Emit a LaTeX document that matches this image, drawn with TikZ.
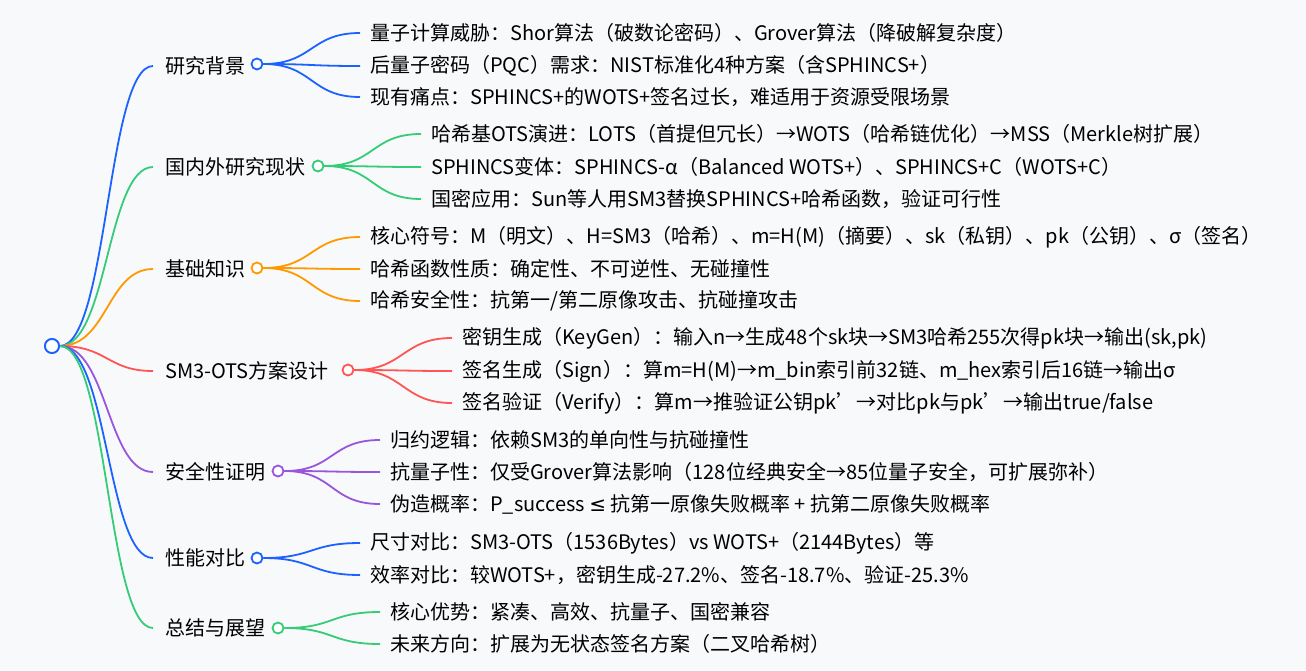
\documentclass[tikz,border=0pt]{standalone}
\usepackage{fontspec}
\setmainfont{Noto Sans CJK SC}
\newfontfamily\symfont{DejaVu Sans}
\usetikzlibrary{calc}
\definecolor{cblue}{RGB}{28,98,255}
\definecolor{cgreen}{RGB}{52,204,118}
\definecolor{corange}{RGB}{255,153,0}
\definecolor{cred}{RGB}{255,85,85}
\definecolor{cpurple}{RGB}{153,85,221}
\definecolor{bg}{RGB}{248,249,251}
\tikzset{
  txt/.style={anchor=west,inner sep=0pt,font=\fontsize{20}{22}\selectfont},
  knob/.style={circle,draw=#1,fill=white,line width=1.8pt,inner sep=0pt,minimum size=11pt},
  lnk/.style={draw=#1,line width=1.8pt}
}
\newcommand{\branch}[3]{% from, to, colour
  \draw[lnk=#3] (#1.east) .. controls +(48,0) and ($(#2.west)+(-58,0)$) .. ($(#2.west)+(-12,0)$);}
\newcommand{\leaf}[3]{%
  \draw[lnk=#3] (#1.east) .. controls +(50,0) and ($(#2.west)+(-60,0)$) .. ($(#2.west)+(-10,0)$);}
\newcommand{\pr}{\symbol{39}}
\begin{document}
\begin{tikzpicture}[x=1pt,y=-1pt]
 \fill[bg] (0,0) rectangle (1306,670);
 \useasboundingbox (0,0) rectangle (1306,670);

 \node[knob=cblue,minimum size=14pt] (root) at (52,346) {};

 % branches
 \node[txt] (b1) at (165,66) {研究背景};
 \node[txt] (b2) at (165,167) {国内外研究现状};
 \node[txt] (b3) at (165,269) {基础知识};
 \node[txt] (b4) at (165,371) {SM3-OTS方案设计};
 \node[txt] (b5) at (165,472) {安全性证明};
 \node[txt] (b6) at (165,558) {性能对比};
 \node[txt] (b7) at (165,628) {总结与展望};

 \node[knob=cblue] (k1) at (257,64) {};
 \node[knob=cgreen] (k2) at (318,166) {};
 \node[knob=corange] (k3) at (257,268) {};
 \node[knob=cred] (k4) at (348,370) {};
 \node[knob=cpurple] (k5) at (278,471) {};
 \node[knob=cblue] (k6) at (257,558) {};
 \node[knob=cgreen] (k7) at (278,628) {};

 \branch{root}{b1}{cblue}
 \branch{root}{b2}{cgreen}
 \branch{root}{b3}{corange}
 \branch{root}{b4}{cred}
 \branch{root}{b5}{cpurple}
 \branch{root}{b6}{cblue}
 \branch{root}{b7}{cgreen}

 % leaves
 \node[txt] (l11) at (370,33) {量子计算威胁：Shor算法（破数论密码）、Grover算法（降破解复杂度）};
 \node[txt] (l12) at (370,66) {后量子密码（PQC）需求：NIST标准化4种方案（含SPHINCS+）};
 \node[txt] (l13) at (370,97) {现有痛点：SPHINCS+的WOTS+签名过长，难适用于资源受限场景};
 \leaf{k1}{l11}{cblue} \leaf{k1}{l12}{cblue} \leaf{k1}{l13}{cblue}

 \node[txt] (l21) at (431,134) {哈希基OTS演进：LOTS（首提但冗长）→WOTS（哈希链优化）→MSS（Merkle树扩展）};
 \node[txt] (l22) at (431,167) {SPHINCS变体：SPHINCS-α（Balanced WOTS+）、SPHINCS+C（WOTS+C）};
 \node[txt] (l23) at (431,199) {国密应用：Sun等人用SM3替换SPHINCS+哈希函数，验证可行性};
 \leaf{k2}{l21}{cgreen} \leaf{k2}{l22}{cgreen} \leaf{k2}{l23}{cgreen}

 \node[txt] (l31) at (370,237) {核心符号：M（明文）、H=SM3（哈希）、m=H(M)（摘要）、sk（私钥）、pk（公钥）、σ（签名）};
 \node[txt] (l32) at (370,269) {哈希函数性质：确定性、不可逆性、无碰撞性};
 \node[txt] (l33) at (370,301) {哈希安全性：抗第一/第二原像攻击、抗碰撞攻击};
 \leaf{k3}{l31}{corange} \leaf{k3}{l32}{corange} \leaf{k3}{l33}{corange}

 \node[txt] (l41) at (462,338) {密钥生成（KeyGen）：输入n→生成48个sk块→SM3哈希255次得pk块→输出(sk,pk)};
 \node[txt] (l42) at (462,371) {签名生成（Sign）：算m=H(M)→m\_bin索引前32链、m\_hex索引后16链→输出σ};
 \node[txt] (l43) at (462,403) {签名验证（Verify）：算m→推验证公钥pk\pr→对比pk与pk\pr→输出true/false};
 \leaf{k4}{l41}{cred} \leaf{k4}{l42}{cred} \leaf{k4}{l43}{cred}

 \node[txt] (l51) at (390,440) {归约逻辑：依赖SM3的单向性与抗碰撞性};
 \node[txt] (l52) at (390,472) {抗量子性：仅受Grover算法影响（128位经典安全→85位量子安全，可扩展弥补）};
 \node[txt] (l53) at (390,504) {伪造概率：P\_success {\symfont ≤} 抗第一原像失败概率 + 抗第二原像失败概率};
 \leaf{k5}{l51}{cpurple} \leaf{k5}{l52}{cpurple} \leaf{k5}{l53}{cpurple}

 \node[txt] (l61) at (370,543) {尺寸对比：SM3-OTS（1536Bytes）vs WOTS+（2144Bytes）等};
 \node[txt] (l62) at (370,575) {效率对比：较WOTS+，密钥生成-27.2\%、签名-18.7\%、验证-25.3\%};
 \leaf{k6}{l61}{cblue} \leaf{k6}{l62}{cblue}

 \node[txt] (l71) at (390,612) {核心优势：紧凑、高效、抗量子、国密兼容};
 \node[txt] (l72) at (390,644) {未来方向：扩展为无状态签名方案（二叉哈希树）};
 \leaf{k7}{l71}{cgreen} \leaf{k7}{l72}{cgreen}

 \node[knob=cblue,minimum size=14pt] at (root) {};
\end{tikzpicture}
\end{document}
